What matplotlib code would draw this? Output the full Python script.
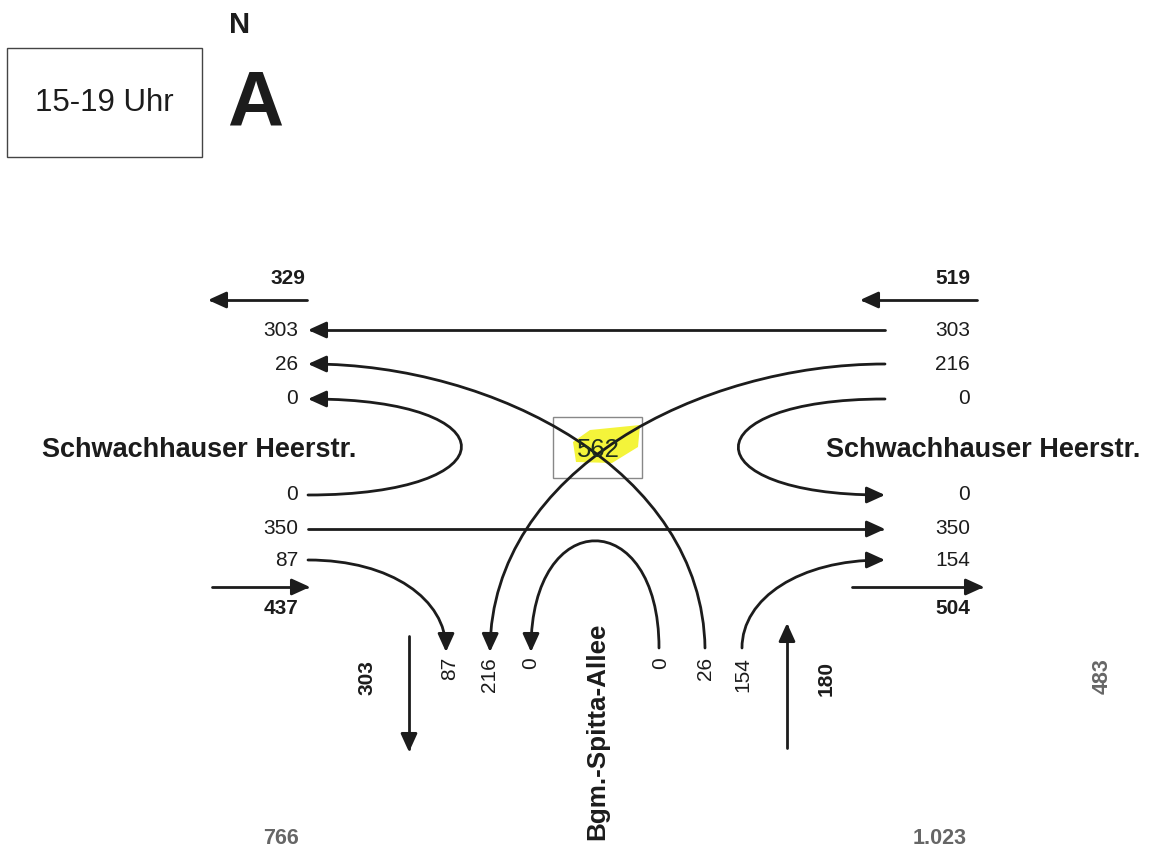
import matplotlib.pyplot as plt
from matplotlib.patches import FancyArrowPatch, Rectangle, Polygon
from matplotlib.path import Path

plt.rcParams['font.family'] = ['Liberation Sans', 'DejaVu Sans']

# counts, 15-19 Uhr
west_out = [303, 26, 0]      # arriving at the west arm (left, top rows)
west_in = [0, 350, 87]       # leaving the west arm (left, lower rows)
east_in = [303, 216, 0]      # leaving the east arm (right, top rows)
east_out = [0, 350, 154]     # arriving at the east arm (right, lower rows)
south_out = [87, 216, 0]     # arriving at Bgm.-Spitta-Allee
south_in = [0, 26, 154]      # leaving Bgm.-Spitta-Allee
totals = {'west_out': 329, 'east_in': 519, 'west_in': 437, 'east_out': 504,
          'south_out': 303, 'south_in': 180}
node_total = 562
sections = ['766', '1.023', '483']

ink = '#1c1c1c'
grey = '#666666'

fig = plt.figure(figsize=(11.53, 8.51), dpi=100)
ax = fig.add_axes([0, 0, 1, 1])
ax.set_xlim(0, 1153)
ax.set_ylim(851, 0)
ax.axis('off')


def arrow(verts, curve=False, head=True):
    if curve:
        codes = [Path.MOVETO, Path.CURVE4, Path.CURVE4, Path.CURVE4]
    else:
        codes = [Path.MOVETO, Path.LINETO]
    style = '-|>,head_length=0.55,head_width=0.25' if head else '-'
    p = FancyArrowPatch(path=Path(verts, codes), arrowstyle=style,
                        mutation_scale=20, lw=2, color=ink, zorder=2)
    ax.add_patch(p)


# header
ax.add_patch(Rectangle((7, 48), 195, 109, fill=False, ec='#444444', lw=1))
ax.text(104, 103, '15-19 Uhr', fontsize=22.5, ha='center', va='center', color=ink)
ax.text(240, 25, 'N', fontsize=21, fontweight='bold', ha='center', va='center', color=ink)
ax.text(255, 105, 'A', fontsize=56, fontweight='bold', ha='center', va='center', color=ink)

# street names
ax.text(42, 450, 'Schwachhauser Heerstr.', fontsize=19.5, fontweight='bold',
        ha='left', va='center', color=ink)
ax.text(1140, 450, 'Schwachhauser Heerstr.', fontsize=19.5, fontweight='bold',
        ha='right', va='center', color=ink)
ax.text(597, 731, 'Bgm.-Spitta-Allee', fontsize=18.7, fontweight='bold',
        rotation=90, ha='center', va='center', color=ink)

# node
ax.add_patch(Polygon([(573, 442), (590, 430), (640, 425), (638, 447),
                      (612, 463), (576, 462)], closed=True, fc='#f4f43a',
                     ec='none', zorder=1))
ax.add_patch(Rectangle((553, 417), 89, 61, fill=False, ec='#888888', lw=1, zorder=1))
ax.text(598, 450, str(node_total), fontsize=18.5, ha='center', va='center',
        color='#1e2e1e', zorder=3)

# lane rows
y_top = [330, 364, 399]
y_bot = [495, 529, 560]
xl, xr = 308, 885

for y, v in zip(y_top, west_out):
    ax.text(298, y, str(v), fontsize=15, ha='right', va='center', color=ink)
for y, v in zip(y_top, east_in):
    ax.text(970, y, str(v), fontsize=15, ha='right', va='center', color=ink)
for y, v in zip(y_bot, west_in):
    ax.text(298, y, str(v), fontsize=15, ha='right', va='center', color=ink)
for y, v in zip(y_bot, east_out):
    ax.text(970, y, str(v), fontsize=15, ha='right', va='center', color=ink)

xs_out = [450, 490, 531]
xs_in = [661, 705, 743]
for x, v in zip(xs_out, south_out):
    ax.text(x, 657, str(v), fontsize=15, rotation=90, ha='center', va='top', color=ink)
for x, v in zip(xs_in, south_in):
    ax.text(x, 657, str(v), fontsize=15, rotation=90, ha='center', va='top', color=ink)

# straight through
arrow([(xr, y_top[0]), (xl, y_top[0])])
arrow([(xl, y_bot[1]), (xr, y_bot[1])])

# crossing turns
arrow([(xr, y_top[1]), (700, y_top[1]), (492, 470), (490, 652)], curve=True)
arrow([(705, 648), (702, 470), (494, y_top[1]), (xl, y_top[1])], curve=True)

# u-turns
arrow([(xl, y_bot[0]), (512, y_bot[0]), (512, y_top[2]), (xl, y_top[2])], curve=True)
arrow([(xr, y_top[2]), (690, y_top[2]), (690, y_bot[0]), (xr, y_bot[0])], curve=True)
arrow([(659, 648), (659, 505), (531, 505), (531, 652)], curve=True)

# right turns
arrow([(xl, y_bot[2]), (392, y_bot[2]), (446, 600), (446, 652)], curve=True)
arrow([(742, 648), (742, 598), (800, y_bot[2]), (xr, y_bot[2])], curve=True)

# arm totals
arrow([(307, 300), (208, 300)])
ax.text(305, 278, str(totals['west_out']), fontsize=15, fontweight='bold',
        ha='right', va='center', color=ink)
arrow([(977, 300), (860, 300)])
ax.text(970, 278, str(totals['east_in']), fontsize=15, fontweight='bold',
        ha='right', va='center', color=ink)
arrow([(212, 587), (310, 587)])
ax.text(298, 609, str(totals['west_in']), fontsize=15, fontweight='bold',
        ha='right', va='center', color=ink)
arrow([(852, 587), (984, 587)])
ax.text(970, 609, str(totals['east_out']), fontsize=15, fontweight='bold',
        ha='right', va='center', color=ink)
arrow([(409, 636), (409, 752)])
ax.text(367, 678, str(totals['south_out']), fontsize=15, fontweight='bold',
        rotation=90, ha='center', va='center', color=ink)
arrow([(787, 748), (787, 623)])
ax.text(826, 678, str(totals['south_in']), fontsize=15, fontweight='bold',
        rotation=90, ha='center', va='center', color=ink)

# cross-section totals
ax.text(281, 839, sections[0], fontsize=15.5, fontweight='bold', ha='center',
        va='center', color=grey)
ax.text(940, 839, sections[1], fontsize=15.5, fontweight='bold', ha='center',
        va='center', color=grey)
ax.text(1102, 676, sections[2], fontsize=15.5, fontweight='bold', rotation=90,
        ha='center', va='center', color=grey)

fig.savefig('out.png', dpi=100, facecolor='white')
